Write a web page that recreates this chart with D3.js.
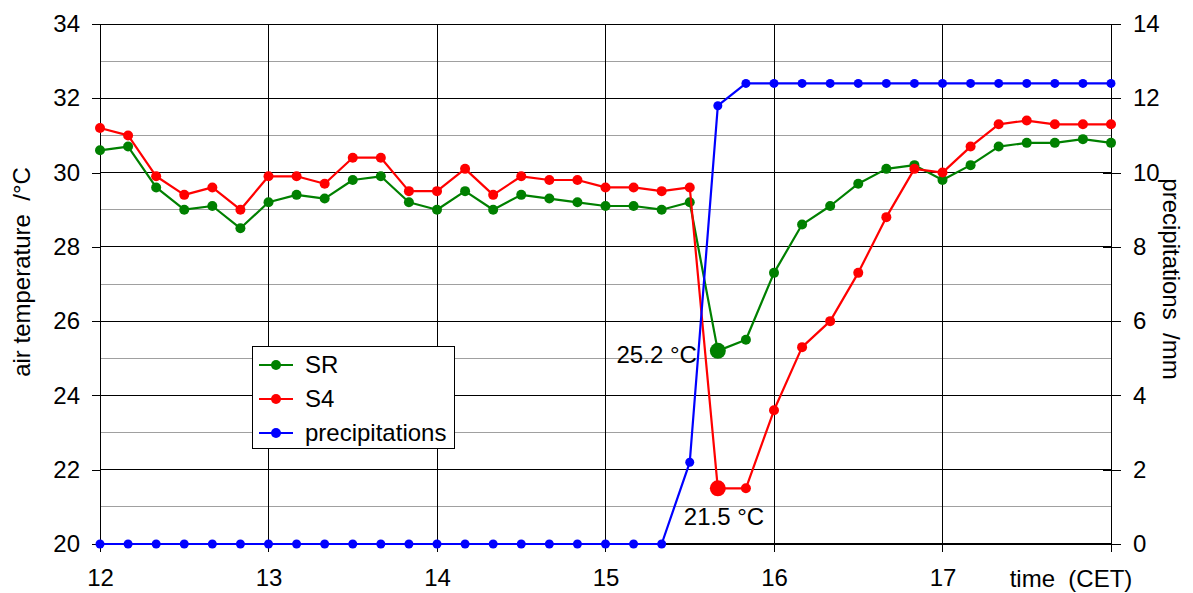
<!DOCTYPE html>
<html>
<head>
<meta charset="utf-8">
<script src="https://cdn.jsdelivr.net/npm/d3@7"></script>
<style>
  body { margin: 0; background: #fff; }
  svg text { font-family: "Liberation Sans", Arial, sans-serif; fill: #000; white-space: pre; }
  .domain { display: none; }
</style>
</head>
<body>
<script>
// measurement times, every 10 min
const times = [
  "12:00","12:10","12:20","12:30","12:40","12:50",
  "13:00","13:10","13:20","13:30","13:40","13:50",
  "14:00","14:10","14:20","14:30","14:40","14:50",
  "15:00","15:10","15:20","15:30","15:40","15:50",
  "16:00","16:10","16:20","16:30","16:40","16:50",
  "17:00","17:10","17:20","17:30","17:40","17:50","18:00"
];
const srValues = [
  30.6,30.7,29.6,29.0,29.1,28.5,
  29.2,29.4,29.3,29.8,29.9,29.2,
  29.0,29.5,29.0,29.4,29.3,29.2,
  29.1,29.1,29.0,29.2,25.2,25.5,
  27.3,28.6,29.1,29.7,30.1,30.2,
  29.8,30.2,30.7,30.8,30.8,30.9,30.8
];
const s4Values = [
  31.2,31.0,29.9,29.4,29.6,29.0,
  29.9,29.9,29.7,30.4,30.4,29.5,
  29.5,30.1,29.4,29.9,29.8,29.8,
  29.6,29.6,29.5,29.6,21.5,21.5,
  23.6,25.3,26.0,27.3,28.8,30.1,
  30.0,30.7,31.3,31.4,31.3,31.3,31.3
];
const precipValues = [
  0,0,0,0,0,0,
  0,0,0,0,0,0,
  0,0,0,0,0,0,
  0,0,0,2.2,11.8,12.4,
  12.4,12.4,12.4,12.4,12.4,12.4,
  12.4,12.4,12.4,12.4,12.4,12.4,12.4
];
const hourTicks = [12, 13, 14, 15, 16, 17];
const tempTicks = [20, 22, 24, 26, 28, 30, 32, 34];
const tempMinor = [21, 23, 25, 27, 29, 31, 33];
const precipTicks = [0, 2, 4, 6, 8, 10, 12, 14];
const minima = [
  { series: "SR", time: "15:40", value: 25.2, label: "25.2 °C" },
  { series: "S4", time: "15:40", value: 21.5, label: "21.5 °C" }
];
const seriesInfo = [
  { name: "SR", color: "#008000", values: srValues, axis: "t" },
  { name: "S4", color: "#ff0000", values: s4Values, axis: "t" },
  { name: "precipitations", color: "#0000ff", values: precipValues, axis: "p" }
];

const width = 1193, height = 593;
const margin = { left: 100, right: 82, top: 24, bottom: 49 };
const fs = "24px";

const parseHour = s => { const p = s.split(":"); return +p[0] + (+p[1]) / 60; };

const svg = d3.select("body").append("svg")
  .attr("width", width).attr("height", height);

const x = d3.scaleLinear().domain([12, 18]).range([margin.left, width - margin.right]);
const y = d3.scaleLinear().domain([20, 34]).range([height - margin.bottom, margin.top]);
const yP = d3.scaleLinear().domain([0, 14]).range([height - margin.bottom, margin.top]);

// grid lines
const grid = svg.append("g").attr("shape-rendering", "crispEdges");
grid.selectAll(".minor").data(tempMinor).enter().append("line")
  .attr("x1", x(12)).attr("x2", x(18))
  .attr("y1", d => y(d)).attr("y2", d => y(d))
  .attr("stroke", "#a0a0a0");
grid.selectAll(".major").data(tempTicks).enter().append("line")
  .attr("x1", x(12)).attr("x2", x(18))
  .attr("y1", d => y(d)).attr("y2", d => y(d))
  .attr("stroke", "#000");
grid.selectAll(".vert").data(hourTicks.concat([18])).enter().append("line")
  .attr("x1", d => x(d)).attr("x2", d => x(d))
  .attr("y1", y(34)).attr("y2", y(20) + 8)
  .attr("stroke", "#000");
grid.append("line")
  .attr("x1", x(12)).attr("x2", x(18))
  .attr("y1", y(20)).attr("y2", y(20))
  .attr("stroke", "#000").attr("stroke-width", 2);

// axes
const yAxis = svg.append("g")
  .attr("transform", `translate(${x(12)},0)`)
  .call(d3.axisLeft(y).tickValues(tempTicks).tickSize(8).tickPadding(12));
const pAxis = svg.append("g")
  .attr("transform", `translate(${x(18)},0)`)
  .call(d3.axisRight(yP).tickValues(precipTicks).tickSize(10).tickPadding(12));
pAxis.selectAll(".tick line").attr("x1", -8);
const xAxis = svg.append("g")
  .attr("transform", `translate(0,${y(20)})`)
  .call(d3.axisBottom(x).tickValues(hourTicks).tickFormat(d3.format("d")).tickSize(0).tickPadding(25));
[yAxis, pAxis, xAxis].forEach(a => {
  a.attr("font-size", null).attr("font-family", null);
  a.selectAll("text").style("font-size", fs).attr("fill", "#000");
  a.selectAll(".tick line").attr("stroke", "#000").attr("shape-rendering", "crispEdges");
});

svg.append("text")
  .attr("x", x(18) - 40).attr("y", y(20) + 43)
  .attr("text-anchor", "middle").style("font-size", fs)
  .text("time  (CET)");

// axis titles
svg.append("text")
  .attr("transform", `translate(30,${272}) rotate(-90)`)
  .attr("text-anchor", "middle").style("font-size", fs)
  .text("air temperature  /°C");
svg.append("text")
  .attr("transform", `translate(1163,${279}) rotate(90)`)
  .attr("text-anchor", "middle").style("font-size", fs)
  .text("precipitations  /mm");

// series
seriesInfo.forEach(s => {
  const sc = s.axis === "t" ? y : yP;
  const pts = times.map((t, i) => [parseHour(t), s.values[i]]);
  svg.append("path")
    .datum(pts)
    .attr("fill", "none")
    .attr("stroke", s.color)
    .attr("stroke-width", 2.2)
    .attr("stroke-linejoin", "round")
    .attr("d", d3.line().x(d => x(d[0])).y(d => sc(d[1])));
  svg.append("g").selectAll("circle").data(pts).enter().append("circle")
    .attr("cx", d => x(d[0])).attr("cy", d => sc(d[1]))
    .attr("r", s.axis === "t" ? 5 : 4.5)
    .attr("fill", s.color);
});

// highlighted minima
minima.forEach(m => {
  const s = seriesInfo.find(d => d.name === m.series);
  svg.append("circle")
    .attr("cx", x(parseHour(m.time))).attr("cy", y(m.value))
    .attr("r", 8).attr("fill", s.color);
});
svg.append("text")
  .attr("x", x(parseHour(minima[0].time)) - 21).attr("y", y(minima[0].value) + 12)
  .attr("text-anchor", "end").style("font-size", fs)
  .text(minima[0].label);
svg.append("text")
  .attr("x", x(parseHour(minima[1].time)) - 34).attr("y", y(minima[1].value) + 37)
  .attr("text-anchor", "start").style("font-size", fs)
  .text(minima[1].label);

// legend
const legend = svg.append("g").attr("transform", "translate(252,346)");
legend.append("rect")
  .attr("x", 0.5).attr("y", 0.5).attr("width", 202).attr("height", 102)
  .attr("fill", "#fff").attr("stroke", "#000");
seriesInfo.forEach((s, i) => {
  const ly = 19 + i * 34;
  legend.append("line")
    .attr("x1", 7).attr("x2", 41).attr("y1", ly).attr("y2", ly)
    .attr("stroke", s.color).attr("stroke-width", 2.2);
  legend.append("circle").attr("cx", 24).attr("cy", ly).attr("r", 5).attr("fill", s.color);
  legend.append("text")
    .attr("x", 53).attr("y", ly + 8).style("font-size", fs)
    .text(s.name);
});
</script>
</body>
</html>
